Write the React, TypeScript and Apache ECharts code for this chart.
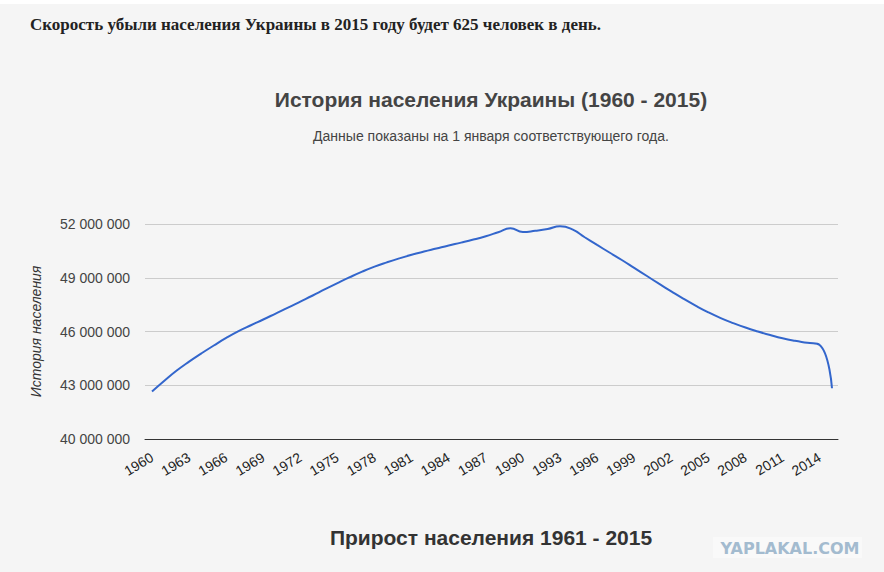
import React, { useEffect, useRef } from 'react';
import * as echarts from 'echarts';

// Население Украины на 1 января, чел.
const years = [
  1960, 1961, 1962, 1963, 1964, 1965, 1966, 1967, 1968, 1969,
  1970, 1971, 1972, 1973, 1974, 1975, 1976, 1977, 1978, 1979,
  1980, 1981, 1982, 1983, 1984, 1985, 1986, 1987, 1988, 1989,
  1990, 1991, 1992, 1993, 1994, 1995, 1996, 1997, 1998, 1999,
  2000, 2001, 2002, 2003, 2004, 2005, 2006, 2007, 2008, 2009,
  2010, 2011, 2012, 2013, 2014, 2015,
];

const population = [
  42650000, 43250000, 43820000, 44320000, 44780000, 45220000, 45640000, 46020000, 46350000, 46670000,
  47000000, 47330000, 47670000, 48010000, 48360000, 48700000, 49030000, 49340000, 49620000, 49860000,
  50080000, 50280000, 50460000, 50630000, 50800000, 50960000, 51130000, 51320000, 51540000, 51760000,
  51550000, 51620000, 51720000, 51870000, 51700000, 51260000, 50830000, 50410000, 49990000, 49550000,
  49110000, 48670000, 48240000, 47820000, 47430000, 47070000, 46750000, 46470000, 46220000, 46000000,
  45800000, 45620000, 45480000, 45370000, 45250000, 42830000,
];

// подписи оси X (каждые 3 года)
const tickYears = [
  1960, 1963, 1966, 1969, 1972, 1975, 1978, 1981, 1984, 1987,
  1990, 1993, 1996, 1999, 2002, 2005, 2008, 2011, 2014,
];

const headline = 'Скорость убыли населения Украины в 2015 году будет 625 человек в день.';
const chartTitle = 'История населения Украины (1960 - 2015)';
const chartSubtitle = 'Данные показаны на 1 января соответствующего года.';
const yAxisName = 'История населения';
const bottomTitle = 'Прирост населения 1961 - 2015';
const watermark = 'YAPLAKAL.COM';

const formatNumber = (v: number) =>
  String(v).replace(/\B(?=(\d{3})+(?!\d))/g, ' ');

export default function App() {
  const chartRef = useRef<HTMLDivElement>(null);

  useEffect(() => {
    if (!chartRef.current) return;
    const chart = echarts.init(chartRef.current, undefined, { renderer: 'svg' });

    const option: echarts.EChartsOption = {
      animation: false,
      backgroundColor: '#f5f5f5',
      grid: {
        left: 145,
        right: 46,
        top: 224,
        bottom: 133,
      },
      xAxis: {
        type: 'value',
        min: 1959.434,
        max: 2015.485,
        splitLine: { show: false },
        axisTick: { show: false },
        axisLine: {
          show: true,
          lineStyle: { color: '#333', width: 1 },
        },
        axisLabel: {
          customValues: tickYears,
          rotate: 31,
          margin: 17,
          color: '#222',
          fontSize: 14,
          fontFamily: 'Arial, "Liberation Sans", sans-serif',
          formatter: (v: number) => String(v),
        },
      },
      yAxis: {
        type: 'value',
        min: 40000000,
        max: 52000000,
        interval: 3000000,
        name: yAxisName,
        nameLocation: 'middle',
        nameRotate: 90,
        nameGap: 102,
        nameTextStyle: {
          color: '#333',
          fontSize: 14,
          fontStyle: 'italic',
          fontFamily: 'Arial, "Liberation Sans", sans-serif',
        },
        axisLine: { show: false },
        axisTick: { show: false },
        axisLabel: {
          margin: 15,
          color: '#444',
          fontSize: 14,
          fontFamily: 'Arial, "Liberation Sans", sans-serif',
          formatter: (v: number) => formatNumber(v),
        },
        splitLine: {
          lineStyle: { color: '#cccccc', width: 1 },
        },
      },
      series: [
        {
          type: 'line',
          data: years.map((y, i) => [y, population[i]]),
          smooth: 0.5,
          showSymbol: false,
          lineStyle: { color: '#3366cc', width: 2 },
          itemStyle: { color: '#3366cc' },
        },
      ],
      graphic: [
        {
          type: 'rect',
          shape: { x: 0, y: 0, width: 884, height: 4 },
          style: { fill: '#ffffff' },
        },
        {
          type: 'text',
          x: 30,
          y: 24,
          style: {
            text: headline,
            fill: '#222',
            font: 'bold 17px "Liberation Serif", "Times New Roman", serif',
            textVerticalAlign: 'middle',
          },
        },
        {
          type: 'text',
          x: 491,
          y: 99,
          style: {
            text: chartTitle,
            fill: '#444',
            font: 'bold 21px Arial, "Liberation Sans", sans-serif',
            textAlign: 'center',
            textVerticalAlign: 'middle',
          },
        },
        {
          type: 'text',
          x: 491,
          y: 136,
          style: {
            text: chartSubtitle,
            fill: '#444',
            font: '14px Arial, "Liberation Sans", sans-serif',
            textAlign: 'center',
            textVerticalAlign: 'middle',
          },
        },
        {
          type: 'text',
          x: 491,
          y: 537,
          style: {
            text: bottomTitle,
            fill: '#333',
            font: 'bold 21px Arial, "Liberation Sans", sans-serif',
            textAlign: 'center',
            textVerticalAlign: 'middle',
          },
        },
        {
          type: 'rect',
          shape: { x: 713, y: 537, width: 149, height: 21 },
          style: { fill: '#f9f9f9' },
        },
        {
          type: 'text',
          x: 790,
          y: 548,
          style: {
            text: watermark,
            fill: '#a3bbcf',
            font: 'bold 16px "DejaVu Sans", Verdana, sans-serif',
            textAlign: 'center',
            textVerticalAlign: 'middle',
          },
        },
      ],
    };

    chart.setOption(option);

    return () => {
      chart.dispose();
    };
  }, []);

  return (
    <div style={styles.page}>
      <div ref={chartRef} style={styles.chart} />
    </div>
  );
}

const styles: Record<string, React.CSSProperties> = {
  page: {
    position: 'absolute',
    left: 0,
    top: 0,
    width: '884px',
    height: '572px',
    background: '#f5f5f5',
  },
  chart: {
    width: '884px',
    height: '572px',
  },
};
